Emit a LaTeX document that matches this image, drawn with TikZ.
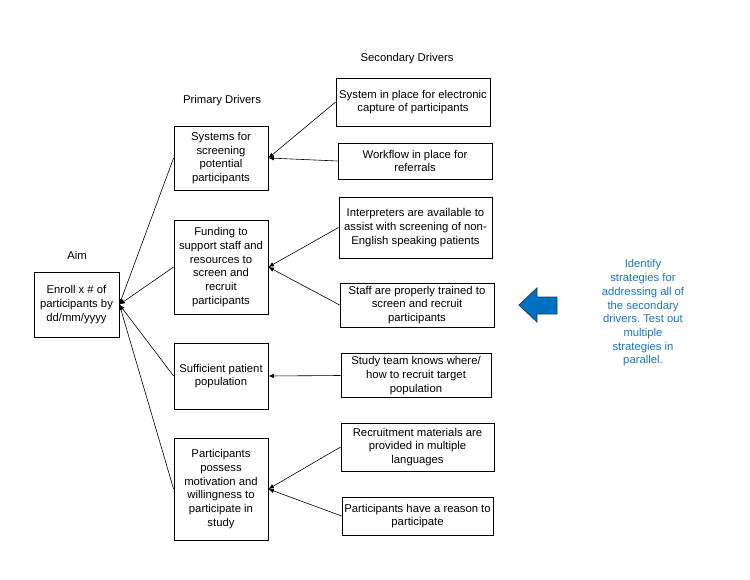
\documentclass[tikz,border=0pt]{standalone}
\usepackage{fontspec}
\setmainfont{Liberation Sans}
\usetikzlibrary{arrows.meta}
\definecolor{arrowblue}{HTML}{0070C0}
\definecolor{arrowedge}{HTML}{1F3A60}
\definecolor{noteblue}{HTML}{1A73C4}
\frenchspacing
\begin{document}
\begin{tikzpicture}[x=1pt,y=-1pt,
  box/.style={draw, line width=0.8pt, align=center, inner sep=0pt,
    font=\fontsize{11.3}{13.7}\selectfont},
  lbl/.style={font=\fontsize{11.3}{13.7}\selectfont, inner sep=0pt},
  conn/.style={line width=0.6pt, -{Latex[length=5.5pt,width=4.5pt]}}]
\useasboundingbox (0,0) rectangle (750,580);
% headings
\node[lbl] (haim) at (77,255) {Aim};
\node[lbl] (hprim) at (222,101) {Primary Drivers};
\node[lbl] (hsec) at (407,59) {Secondary Drivers};
% aim
\node[box, minimum width=85pt, minimum height=65pt] (aim) at (76.5,304.5)
  {Enroll x \# of\\participants by\\dd/mm/yyyy};
% primary drivers
\node[box, minimum width=94pt, minimum height=64pt] (p1) at (221,158)
  {Systems for\\screening\\potential\\participants};
\node[box, minimum width=94pt, minimum height=94pt] (p2) at (221,267)
  {Funding to\\support staff and\\resources to\\screen and\\recruit\\participants};
\node[box, minimum width=94pt, minimum height=66pt] (p3) at (221,376)
  {Sufficient patient\\population};
\node[box, minimum width=94pt, minimum height=102pt] (p4) at (221,489)
  {Participants\\possess\\motivation and\\willingness to\\participate in\\study};
% secondary drivers
\node[box, minimum width=154pt, minimum height=48pt] (s1) at (413,102)
  {System in place for electronic\\capture of participants};
\node[box, minimum width=154pt, minimum height=36pt] (s2) at (415,161)
  {Workflow in place for\\referrals};
\node[box, minimum width=153pt, minimum height=61pt] (s3) at (415.5,227.5)
  {Interpreters are available to\\assist with screening of non-\\English speaking patients};
\node[box, minimum width=154pt, minimum height=44pt] (s4) at (417,305)
  {Staff are properly trained to\\screen and recruit\\participants};
\node[box, minimum width=150pt, minimum height=44pt] (s5) at (416,375.5)
  {Study team knows where/\\how to recruit target\\population};
\node[box, minimum width=153pt, minimum height=48pt] (s6) at (417.5,447)
  {Recruitment materials are\\provided in multiple\\languages};
\node[box, minimum width=151pt, minimum height=38pt] (s7) at (417.5,516)
  {Participants have a reason to\\participate};
% connectors secondary -> primary
\draw[conn] (s1.west) -- (p1.east);
\draw[conn] (s2.west) -- (p1.east);
\draw[conn] (s3.west) -- (p2.east);
\draw[conn] (s4.west) -- (p2.east);
\draw[conn] (s5.west) -- (p3.east);
\draw[conn] (s6.west) -- (p4.east);
\draw[conn] (s7.west) -- (p4.east);
% connectors primary -> aim
\draw[conn] (p1.west) -- (aim.east);
\draw[conn] (p2.west) -- (aim.east);
\draw[conn] (p3.west) -- (aim.east);
\draw[conn] (p4.west) -- (aim.east);
% blue arrow
\draw[fill=arrowblue, draw=arrowedge, line width=0.8pt, line join=miter]
  (519,305) -- (537,288) -- (537,297) -- (557,297) -- (557,314)
  -- (537,314) -- (537,322) -- cycle;
% note
\node[lbl, align=center, text=noteblue] (note) at (643,313)
  {Identify\\strategies for\\addressing all of\\the secondary\\drivers. Test out\\multiple\\strategies in\\parallel.};
\end{tikzpicture}
\end{document}
